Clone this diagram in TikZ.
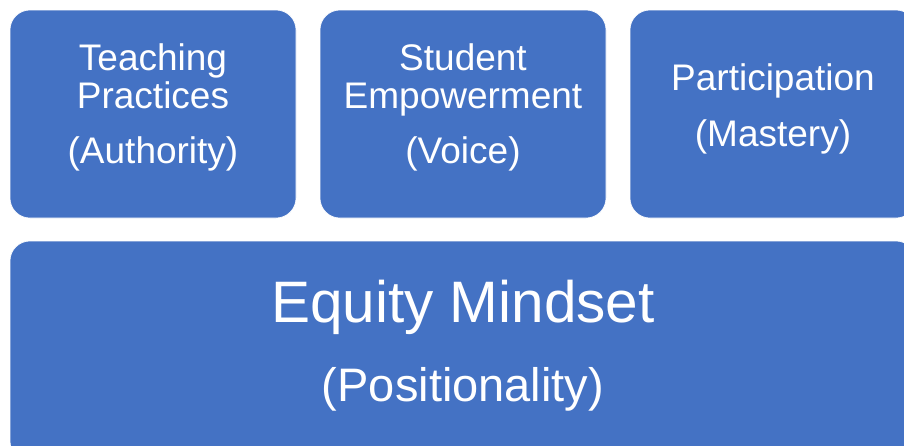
\documentclass[tikz,border=0pt]{standalone}
\usepackage{fontspec}
\setmainfont{Liberation Sans}
\usepackage{xcolor}
\definecolor{boxblue}{HTML}{4472C4}

\begin{document}
\begin{tikzpicture}[x=1pt,y=-1pt,
  block/.style={fill=boxblue,draw=white,line width=0.6pt,rounded corners=20pt,
    inner sep=0pt,minimum width=286pt,minimum height=208pt},
  label/.style={anchor=base,text=white,inner sep=0pt,font=\fontsize{37}{37}\selectfont},
  biglabel/.style={label,font=\fontsize{58.5}{58.5}\selectfont},
  sublabel/.style={label,font=\fontsize{47}{47}\selectfont}]
\useasboundingbox (0,0) rectangle (904,445);
\clip (0,0) rectangle (904,445);

% three pillars on top
\node[block] (teach) at (153,114) {};
\node[block] (voice) at (463,114) {};
\node[block] (part) at (773,114) {};
% the base
\node[block,minimum width=906pt,minimum height=220pt] (base) at (463,351) {};

\node[label] (teach1) at (153,70) {Teaching};
\node[label] (teach2) at (153,108) {Practices};
\node[label] (teach3) at (153,163) {(Authority)};
\node[label] (voice1) at (463,70) {Student};
\node[label] (voice2) at (463,108) {Empowerment};
\node[label] (voice3) at (463,163) {(Voice)};
\node[label] (part1) at (773,90) {Participation};
\node[label] (part2) at (773,146) {(Mastery)};
\node[biglabel] (base1) at (463,322) {Equity Mindset};
\node[sublabel] (base2) at (463,401) {(Positionality)};
\end{tikzpicture}
\end{document}
